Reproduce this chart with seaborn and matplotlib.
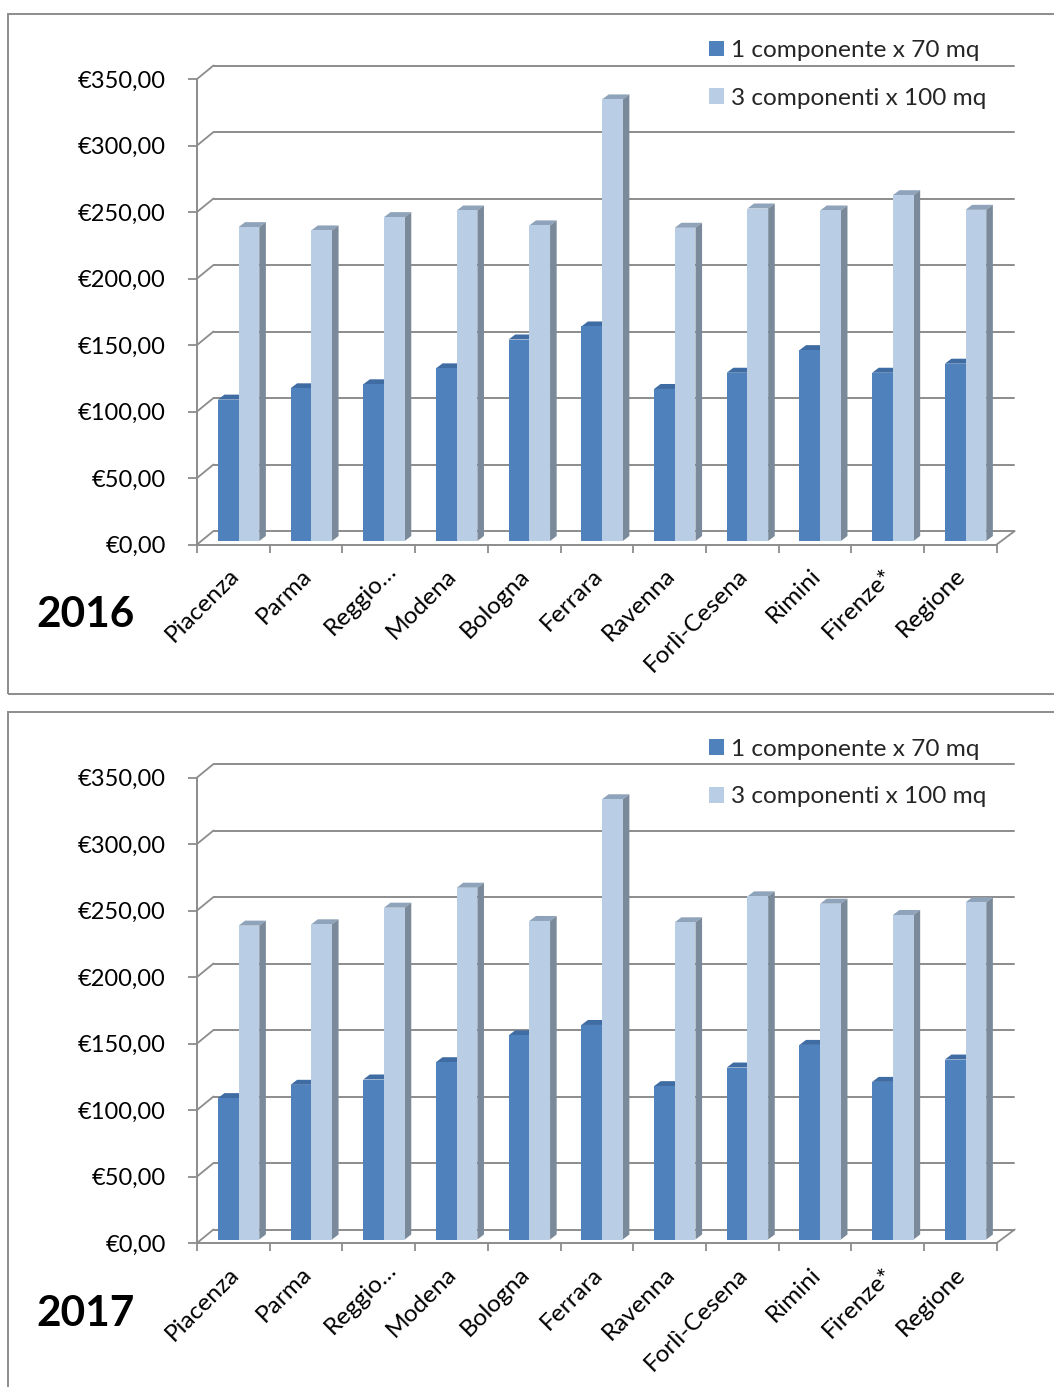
import matplotlib
matplotlib.use("Agg")
import matplotlib.pyplot as plt
from matplotlib.patches import Polygon, Rectangle
from matplotlib.transforms import Affine2D, IdentityTransform
import numpy as np
import pandas as pd
import seaborn as sns

cities = ['Piacenza', 'Parma', 'Reggio…', 'Modena', 'Bologna', 'Ferrara',
          'Ravenna', 'Forlì-Cesena', 'Rimini', 'Firenze*', 'Regione']
series_names = ['1 componente x 70 mq', '3 componenti x 100 mq']
yticks = [0, 50, 100, 150, 200, 250, 300, 350]
ylabels = ['€0,00', '€50,00', '€100,00', '€150,00', '€200,00', '€250,00', '€300,00', '€350,00']

one_2016 = [106.3, 114.8, 117.8, 129.8, 151.5, 161.3, 114.3, 126.5, 143.5, 126.5, 133.3]
three_2016 = [236, 233.5, 243.5, 248.5, 237.3, 332, 235.5, 250, 248.5, 260, 249]
one_2017 = [106.3, 116.3, 120.3, 133.3, 153.5, 161.3, 115.3, 129.3, 146.3, 118.5, 135.3]
three_2017 = [236, 237, 249.5, 264.5, 239.5, 331, 238.5, 258, 252.5, 244, 253.5]

W, H = 1054, 1387
DARK, LIGHT = '#4f81bd', '#b9cde5'
DARK_TOP, LIGHT_TOP = '#3f6ca3', '#8fa3ba'
SIDE = '#7a8a9a'
LINE = '#8c8c8c'

sns.set_theme(style='white')
plt.rcParams['font.family'] = ['Lato', 'DejaVu Sans']

fig = plt.figure(figsize=(W / 100, H / 100), dpi=100)


def frame(left, top, bottom):
    fig.add_artist(Rectangle((left / W, 1 - bottom / H), 1.2, (bottom - top) / H,
                             transform=fig.transFigure, fill=False,
                             edgecolor=LINE, linewidth=1.4, clip_on=True))


def panel(one, three, year, off):
    ax = fig.add_axes([197 / W, 1 - (544.5 + off) / H, 799.7 / W, 465.5 / H])
    ax.patch.set_alpha(0)
    df = pd.DataFrame({
        'city': cities * 2,
        'value': one + three,
        'serie': [series_names[0]] * len(one) + [series_names[1]] * len(three),
    })
    sns.barplot(data=df, x='city', y='value', hue='serie', ax=ax,
                palette=[DARK, LIGHT], saturation=1, width=0.57, gap=0,
                errorbar=None, linewidth=0, legend=True)
    ax.set_xlim(-0.5, 10.5)
    ax.set_ylim(0, 350)
    ax.set_xlabel('')
    ax.set_ylabel('')
    sns.despine(ax=ax, left=True, bottom=True, top=True, right=True)

    # bars stand a little inside the floor
    shift = ax.transData + Affine2D().translate(5.2, 3.5)
    depth = np.array([6.6, 5])
    tops = [DARK_TOP, LIGHT_TOP]
    for i, cont in enumerate(ax.containers):
        for bar in cont:
            x0, x1, h = bar.get_x(), bar.get_x() + bar.get_width(), bar.get_height()
            bar.set_transform(shift)
            bar.set_zorder(3 + 2 * i + 0.5)
            bar.set_clip_on(False)
            a, b, c = shift.transform([(x0, h), (x1, h), (x1, 0)])
            ax.add_patch(Polygon([a, b, b + depth, a + depth], closed=True, facecolor=tops[i],
                                 edgecolor='none', transform=IdentityTransform(),
                                 zorder=3 + 2 * i, clip_on=False))
            ax.add_patch(Polygon([b, c, c + depth, b + depth], closed=True, facecolor=SIDE,
                                 edgecolor='none', transform=IdentityTransform(),
                                 zorder=3 + 2 * i, clip_on=False))

    # back wall, floor, axis
    back = ax.transData + Affine2D().translate(16.5, 13.5)
    for y in yticks:
        ax.plot([-0.5, 10.51], [y, y], transform=back, color=LINE, lw=1.4, clip_on=False, zorder=1)
        p = ax.transData.transform((-0.5, y))
        ax.plot([p[0], p[0] + 16.5], [p[1], p[1] + 13.5], transform=IdentityTransform(),
                color=LINE, lw=1.3, clip_on=False, zorder=1)
    p = ax.transData.transform((10.5, 0))
    ax.plot([p[0], p[0] + 18], [p[1], p[1] + 13.5], transform=IdentityTransform(),
            color=LINE, lw=1.3, clip_on=False, zorder=1)
    ax.plot([-0.5, 10.5], [0, 0], color=LINE, lw=1.4, clip_on=False, zorder=2)
    ax.plot([-0.5, -0.5], [0, 350], color=LINE, lw=1.4, clip_on=False, zorder=2)

    ax.set_yticks(yticks, ylabels)
    ax.set_xticks(np.arange(-0.5, 11), [''] * 12)
    ax.set_xticks(np.arange(11), cities, minor=True)
    ax.tick_params(axis='y', left=True, length=6.5, width=1.3, color=LINE, pad=16,
                   labelsize=17, labelcolor='black')
    ax.tick_params(axis='x', which='major', bottom=True, length=6, width=1.3, color=LINE)
    ax.tick_params(axis='x', which='minor', bottom=False, length=0, pad=20,
                   labelsize=17.6, labelcolor='black')
    for lab in ax.get_xticklabels(minor=True):
        lab.set_rotation(45)
        lab.set_ha('right')
        lab.set_va('center')
        lab.set_rotation_mode('anchor')
        # the truncated label sits further right in the original
        dx, dy = (14, 5) if lab.get_text() == 'Reggio…' else (2, 0)
        lab.set_transform(lab.get_transform() + Affine2D().translate(dx, dy))

    ax.legend(loc='upper left', bbox_to_anchor=(709 / W, 1 - (40 + off) / H),
              bbox_transform=fig.transFigure, frameon=False, fontsize=17.55,
              handlelength=0.61, handleheight=0.61, handletextpad=0.28,
              labelspacing=1.1, borderpad=0, borderaxespad=0, title=None)

    fig.text(36 / W, 1 - (615 + off) / H, year, fontsize=30.5, fontweight='bold',
             color='black', ha='left', va='center')


frame(8, 14, 694)
frame(8, 712, 1400)
panel(one_2016, three_2016, '2016', 0)
panel(one_2017, three_2017, '2017', 698.5)

fig.savefig('out.png', dpi=100)
